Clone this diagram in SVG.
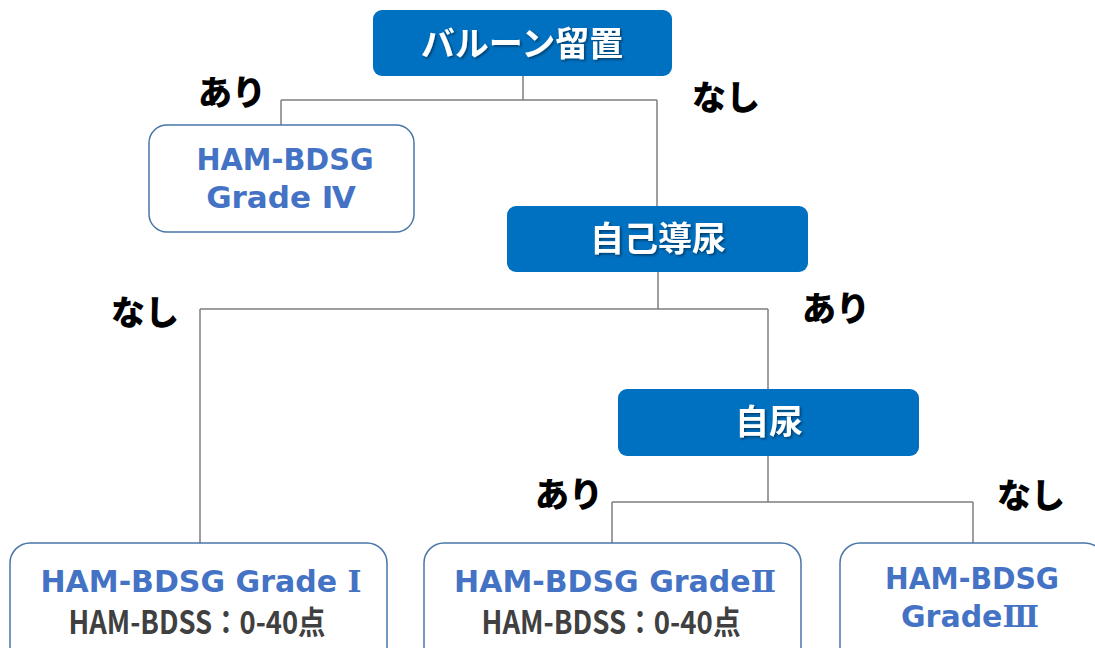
<svg xmlns="http://www.w3.org/2000/svg" width="1095" height="648" viewBox="0 0 1095 648">
<defs>
<filter id="ts" x="-10%" y="-30%" width="130%" height="160%">
<feDropShadow dx="1.5" dy="1.5" stdDeviation="1" flood-color="#000" flood-opacity="0.45"/>
</filter>
<style>
.hdr{fill:#0070C0;}
.res{fill:#FFFFFF;stroke:#4A76A8;stroke-width:1.5;}
.ht{font-family:"Noto Sans CJK JP","Noto Sans",sans-serif;font-weight:700;font-size:34px;fill:#FFFFFF;text-anchor:middle;dominant-baseline:central;filter:url(#ts);}
.lb{font-family:"Noto Sans CJK JP","Noto Sans",sans-serif;font-weight:900;font-size:34px;fill:#000000;dominant-baseline:central;}
.bt{font-family:"DejaVu Sans","Noto Sans CJK JP",sans-serif;font-weight:700;font-size:30px;fill:#4472C4;text-anchor:middle;}
.rn{font-family:"DejaVu Serif","Noto Sans CJK JP",serif;font-weight:700;}
.st{font-family:"Noto Sans CJK JP","Noto Sans",sans-serif;font-weight:700;font-size:32px;fill:#404040;text-anchor:middle;}
.cn{fill:none;stroke:#7F7F7F;stroke-width:1.5;}
</style>
</defs>
<rect width="1095" height="648" fill="#FFFFFF"/>
<g id="connectors">
<path class="cn" d="M523,76 V100 M281,100 H657 M281,100 V125 M657,100 V206"/>
<path class="cn" d="M658,272 V309 M200,309 H768 M200,309 V543 M768,309 V389"/>
<path class="cn" d="M768,456 V502 M612,502 H973 M612,502 V543 M973,502 V543"/>
</g>
<g id="labels">
<text class="lb" x="198" y="90">あり</text>
<text class="lb" x="692" y="95">なし</text>
<text class="lb" x="111" y="310">なし</text>
<text class="lb" x="802" y="306">あり</text>
<text class="lb" x="535" y="492">あり</text>
<text class="lb" x="997" y="493">なし</text>
</g>
<g id="node-balloon">
<rect class="hdr" x="373" y="10" width="299" height="66" rx="9"/>
<text class="ht" x="522" y="41">バルーン留置</text>
</g>
<g id="node-grade4">
<rect class="res" x="149" y="125" width="265" height="107" rx="18"/>
<text class="bt" x="285" y="170" textLength="177" lengthAdjust="spacingAndGlyphs">HAM-BDSG</text>
<text class="bt" x="281" y="208" style="font-size:31px">Grade Ⅳ</text>
</g>
<g id="node-self-cath">
<rect class="hdr" x="507" y="206" width="301" height="66" rx="9"/>
<text class="ht" x="658" y="236">自己導尿</text>
</g>
<g id="node-void">
<rect class="hdr" x="618" y="389" width="301" height="67" rx="9"/>
<text class="ht" x="769" y="419">自尿</text>
</g>
<g id="node-grade1">
<rect class="res" x="10" y="543" width="377" height="130" rx="20"/>
<text class="bt" x="201" y="592">HAM-BDSG Grade <tspan class="rn">Ⅰ</tspan></text>
<text class="st" x="197" y="634" textLength="257" lengthAdjust="spacingAndGlyphs">HAM-BDSS：0-40点</text>
</g>
<g id="node-grade2">
<rect class="res" x="424" y="543" width="377" height="130" rx="20"/>
<text class="bt" x="615" y="592">HAM-BDSG Grade<tspan class="rn">Ⅱ</tspan></text>
<text class="st" x="611" y="634" textLength="259" lengthAdjust="spacingAndGlyphs">HAM-BDSS：0-40点</text>
</g>
<g id="node-grade3">
<rect class="res" x="840" y="543" width="265" height="130" rx="20"/>
<text class="bt" x="972" y="589" textLength="174" lengthAdjust="spacingAndGlyphs">HAM-BDSG</text>
<text class="bt" x="970" y="627">Grade<tspan class="rn">Ⅲ</tspan></text>
</g>
</svg>
